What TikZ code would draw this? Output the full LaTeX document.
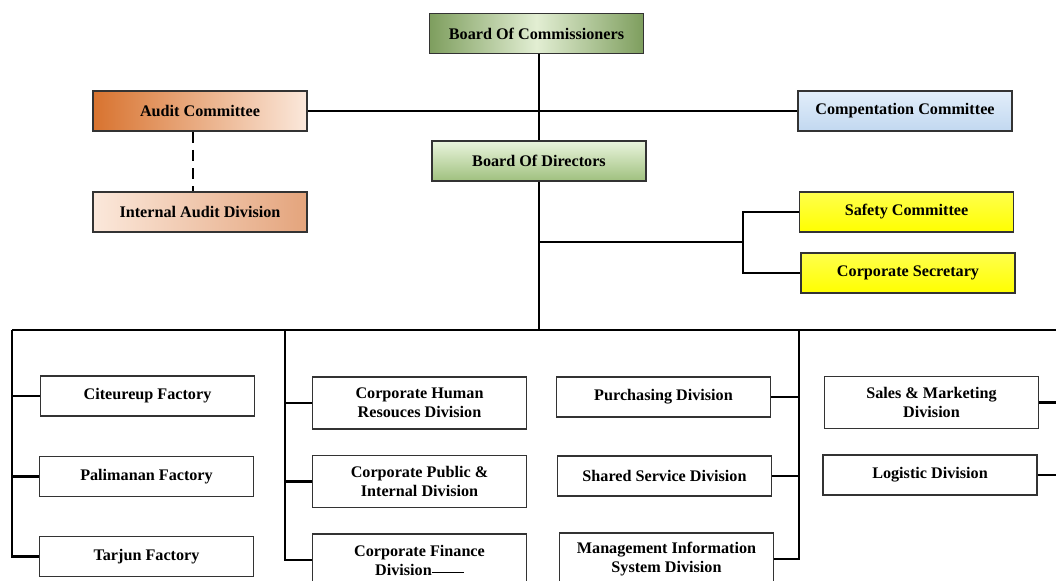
\documentclass[tikz,border=0pt]{standalone}
\usepackage{fontspec}
\setmainfont{Liberation Serif}
\usetikzlibrary{positioning}
\definecolor{bgreen}{HTML}{7E9E5E}
\definecolor{bpale}{HTML}{E2EED3}
\definecolor{dtop}{HTML}{EAF5DD}
\definecolor{dbot}{HTML}{9FC07E}
\definecolor{adark}{HTML}{D8732F}
\definecolor{apale}{HTML}{FBE8DB}
\definecolor{amid}{HTML}{E4A47C}
\definecolor{ctop}{HTML}{E2EEFA}
\definecolor{cbot}{HTML}{C2D8F0}
\tikzset{wire/.style={line width=1.6pt},
  unit/.style={draw=black!80, line width=0.9pt, minimum width=5.35cm, minimum height=1cm,
    inner sep=2pt, align=center, font=\bfseries\fontsize{11.5}{13.5}\selectfont},
  tall/.style={unit, minimum height=1.3cm},
  cmt/.style={unit, top color=yellow!70, bottom color=yellow}}

\begin{document}
\begin{tikzpicture}[x=0.025cm, y=-0.025cm]
  \useasboundingbox (0,0) rectangle (1056,580);
  \clip (0,0) rectangle (1056,580);
  % boards and committees
  \node[unit, left color=bgreen, right color=bgreen, middle color=bpale] (boc) at (536.5,33.5) {Board Of Commissioners};
  \node[unit, top color=dtop, bottom color=dbot] (bod) at (539,161) {Board Of Directors};
  \node[unit, left color=adark, right color=apale] (audc) at (200,111) {Audit Committee};
  \node[unit, left color=apale, right color=amid] (iad) at (200,212) {Internal Audit Division};
  \node[unit, top color=ctop, bottom color=cbot] (comp) at (905,111) {Compentation Committee};
  \node[cmt] (safe) at (906.5,212) {Safety Committee};
  \node[cmt] (sec) at (908,273) {Corporate Secretary};
  % factories and divisions
  \node[unit] (cit) at (147.5,396) {Citeureup Factory};
  \node[unit] (pal) at (146.5,476.5) {Palimanan Factory};
  \node[unit] (tar) at (146.5,556.5) {Tarjun Factory};
  \node[tall] (chr) at (419.5,403) {Corporate Human\\Resouces Division};
  \node[tall] (cpi) at (419.5,481.5) {Corporate Public \&\\Internal Division};
  \node[tall] (cfd) at (419.5,560) {Corporate Finance\\Division\rule[0.25ex]{0.8cm}{0.7pt}};
  \node[unit] (pur) at (663.5,397) {Purchasing Division};
  \node[unit] (shs) at (664.5,476) {Shared Service Division};
  \node[tall] (mis) at (666.5,559) {Management Information\\System Division};
  \node[tall] (sal) at (931.5,402.5) {Sales \& Marketing\\Division};
  \node[unit] (log) at (930,475) {Logistic Division};
  % lines
  \coordinate (sp) at (539,242);
  \coordinate (b1) at (12,330);
  \coordinate (b2) at (285,330);
  \coordinate (b3) at (799,330);
  \coordinate (b4) at (1062,330);
  \draw[wire] (bod.north) -- (bod.north |- boc.south);
  \draw[wire] (audc.east) -- (comp.west);
  \draw[wire, dash pattern=on 8pt off 5pt] ([xshift=-5]audc.south) -- ([xshift=-5]iad.north);
  \draw[wire] (bod) -- (bod.south |- b1);
  \draw[wire] (sp) -- ++(204,0) coordinate (fk);
  \draw[wire] (safe.west) -| (fk) |- (sec.west);
  \draw[wire] (b1) -- (b4);
  \foreach \n in {cit, pal, tar}{\draw[wire] (\n.west) -| (b1);}
  \foreach \n in {chr, cpi, cfd}{\draw[wire] (\n.west) -| (b2);}
  \foreach \n in {pur, shs, mis}{\draw[wire] (\n.east) -| (b3);}
  \foreach \n in {sal, log}{\draw[wire] (\n.east) -| (b4);}
\end{tikzpicture}
\end{document}
